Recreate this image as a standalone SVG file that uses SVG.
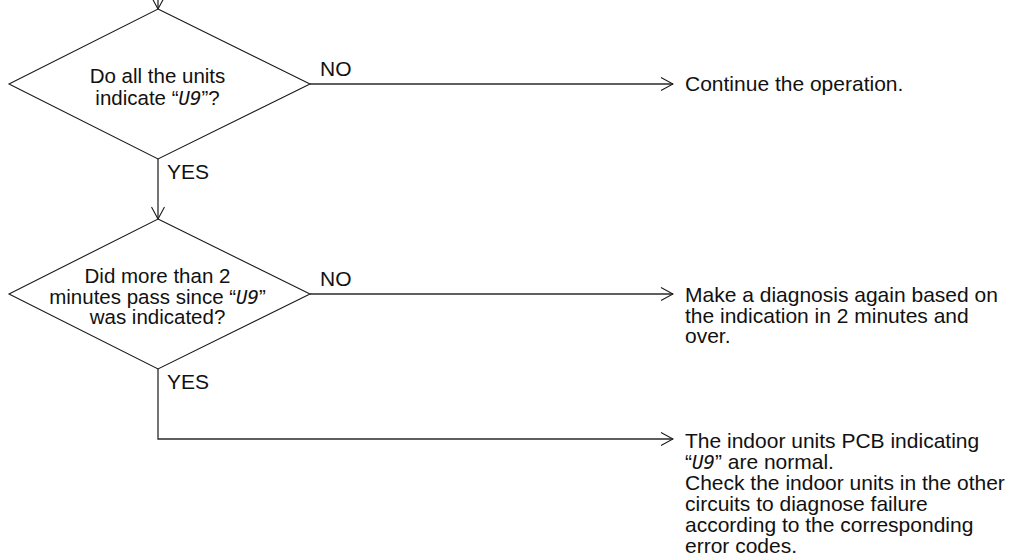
<svg xmlns="http://www.w3.org/2000/svg" width="1009" height="559" viewBox="0 0 1009 559">
<defs>
<marker id="arr" markerWidth="14" markerHeight="16" refX="13" refY="8" orient="auto" markerUnits="userSpaceOnUse">
<path d="M1,1.5 L13,8 L1,14.5" fill="none" stroke="#1a1a1a" stroke-width="1.1"/>
</marker>
<style>
.t{font-family:"Liberation Sans",Arial,Helvetica,sans-serif;font-size:21px;fill:#111}
.s{font-size:20.5px}
.c{text-anchor:middle}
.u{font-style:italic;font-family:"DejaVu Sans Mono","Liberation Mono",monospace;font-size:19px;font-weight:300}
.d{fill:#fff;stroke:#1a1a1a;stroke-width:1.1}
.l{fill:none;stroke:#2a2a2a;stroke-width:1.3}
</style>
</defs>
<rect width="1009" height="559" fill="#fff"/>
<g id="connectors">
<line class="l" x1="158" y1="-3" x2="158" y2="9" marker-end="url(#arr)"/>
<line class="l" x1="310" y1="84" x2="673" y2="84" marker-end="url(#arr)"/>
<line class="l" x1="158" y1="159" x2="158" y2="219" marker-end="url(#arr)"/>
<line class="l" x1="310" y1="294" x2="673" y2="294" marker-end="url(#arr)"/>
<polyline class="l" points="158,369 158,439 673,439" marker-end="url(#arr)"/>
<text class="t" x="320" y="76">NO</text>
<text class="t" x="167" y="179">YES</text>
<text class="t" x="320" y="286">NO</text>
<text class="t" x="167" y="389">YES</text>
</g>
<g id="decision1">
<polygon class="d" points="158,9 310,84 158,159 9,84"/>
<text class="t s c" x="157.5" y="83">Do all the units</text>
<text class="t s c" x="157.5" y="104.5">indicate “<tspan class="u">U9</tspan>”?</text>
</g>
<g id="decision2">
<polygon class="d" points="158,219 310,294 158,369 9,294"/>
<text class="t s c" x="157.5" y="283">Did more than 2</text>
<text class="t s c" x="157.5" y="303.5">minutes pass since “<tspan class="u">U9</tspan>”</text>
<text class="t s c" x="157.5" y="324">was indicated?</text>
</g>
<g id="result-continue">
<text class="t" x="685" y="90.5">Continue the operation.</text>
</g>
<g id="result-rediagnose">
<text class="t" x="685" y="302">Make a diagnosis again based on</text>
<text class="t" x="685" y="322.5">the indication in 2 minutes and</text>
<text class="t" x="685" y="343">over.</text>
</g>
<g id="result-normal">
<text class="t" x="685" y="448">The indoor units PCB indicating</text>
<text class="t" x="685" y="469">“<tspan class="u">U9</tspan>” are normal.</text>
<text class="t" x="685" y="490">Check the indoor units in the other</text>
<text class="t" x="685" y="511">circuits to diagnose failure</text>
<text class="t" x="685" y="532">according to the corresponding</text>
<text class="t" x="685" y="553">error codes.</text>
</g>
</svg>
